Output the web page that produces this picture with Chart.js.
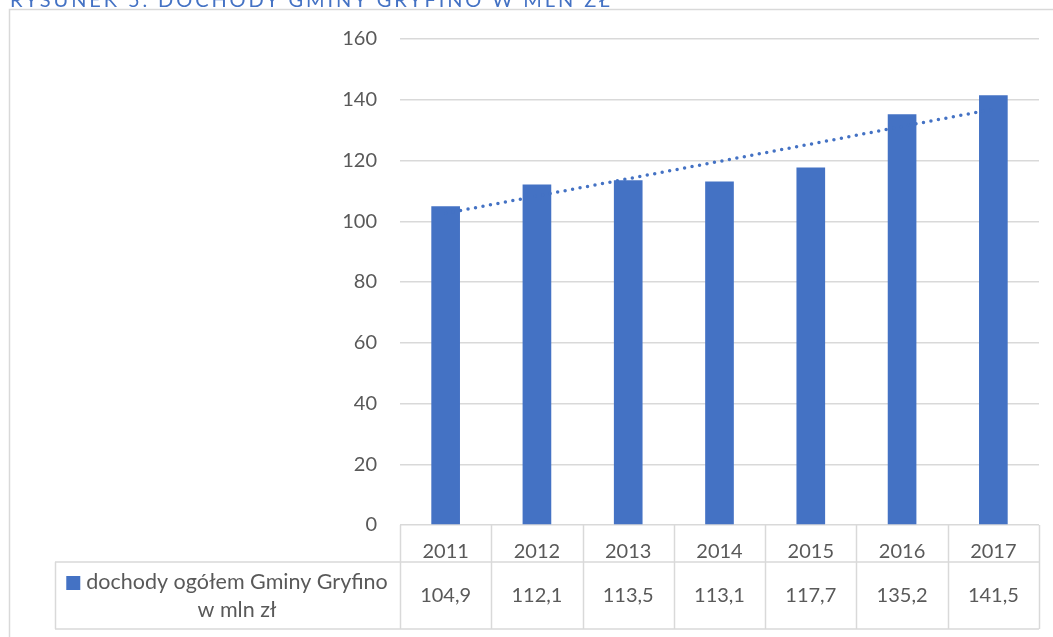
<!DOCTYPE html>
<html>
<head>
<meta charset="utf-8">
<script src="https://cdn.jsdelivr.net/npm/chart.js@4"></script>
<style>
  body { margin: 0; background: #fff; }
  #wrap { position: relative; width: 1053px; height: 637px; overflow: hidden; }
  #title {
    position: absolute; left: 10px; top: -13px; white-space: nowrap;
    font-family: Lato, sans-serif; font-size: 20px; letter-spacing: 2.9px;
    color: #4472c4;
  }
</style>
</head>
<body>
<div id="wrap">
  <div id="title">RYSUNEK 5. DOCHODY GMINY GRYFINO W MLN ZŁ</div>
  <canvas id="chart"></canvas>
</div>
<script>
const years = ['2011', '2012', '2013', '2014', '2015', '2016', '2017']
const incomes = [104.9, 112.1, 113.5, 113.1, 117.7, 135.2, 141.5]
// linear trend line
const trend = [102.6, 108.3, 114.0, 119.7, 125.4, 131.2, 136.9]
const seriesLabel = ['dochody ogółem Gminy Gryfino', 'w mln zł']

const blue = '#4472c4'
const grey = '#d9d9d9'
const textColor = '#595959'
const font = 'Lato, sans-serif'

// frame + data table under the x axis
const tablePlugin = {
  id: 'table',
  beforeDraw(chart) {
    const ctx = chart.ctx
    ctx.save()
    ctx.strokeStyle = grey
    ctx.lineWidth = 1.5
    ctx.strokeRect(9.5, 9.5, 1200, 800)
    ctx.restore()
  },
  afterDraw(chart) {
    const ctx = chart.ctx
    const x = chart.scales.x
    const area = chart.chartArea
    const colW = (area.right - area.left) / years.length
    const headTop = area.bottom
    const rowTop = 562
    const rowBottom = 629
    const labelLeft = 55
    ctx.save()
    ctx.strokeStyle = grey
    ctx.lineWidth = 1.5
    ctx.beginPath()
    for (let i = 0; i <= years.length; i++) {
      const px = Math.round(area.left + i * colW) + 0.5
      ctx.moveTo(px, headTop)
      ctx.lineTo(px, rowBottom)
    }
    ctx.moveTo(labelLeft, rowTop); ctx.lineTo(area.right, rowTop)
    ctx.moveTo(labelLeft, rowBottom); ctx.lineTo(area.right, rowBottom)
    ctx.moveTo(labelLeft + 0.5, rowTop); ctx.lineTo(labelLeft + 0.5, rowBottom)
    ctx.stroke()

    ctx.fillStyle = textColor
    ctx.font = '20px ' + font
    ctx.textAlign = 'center'
    ctx.textBaseline = 'middle'
    incomes.forEach((v, i) => {
      ctx.fillText(v.toFixed(1).replace('.', ','), x.getPixelForValue(i), 596)
    })

    // series label with legend square
    ctx.font = '21.5px ' + font
    const textCenter = 237
    ctx.fillText(seriesLabel[0], textCenter, 582)
    ctx.fillText(seriesLabel[1], textCenter, 610)
    const w = ctx.measureText(seriesLabel[0]).width
    ctx.fillStyle = blue
    ctx.fillRect(textCenter - w / 2 - 20, 576, 14, 14)
    ctx.restore()
  }
}

new Chart(document.getElementById('chart'), {
  type: 'bar',
  data: {
    labels: years,
    datasets: [
      {
        type: 'line',
        label: 'trend',
        data: trend,
        borderColor: blue,
        borderWidth: 3.5,
        borderDash: [0, 7.6],
        borderCapStyle: 'round',
        pointRadius: 0,
        fill: false,
        order: 0
      },
      {
        label: seriesLabel.join(' '),
        data: incomes,
        backgroundColor: blue,
        categoryPercentage: 1,
        barPercentage: 0.314,
        order: 1
      }
    ]
  },
  options: {
    responsive: true,
    maintainAspectRatio: false,
    animation: false,
    layout: { padding: { left: 0, right: 14, top: 39, bottom: 75 } },
    plugins: { legend: { display: false }, tooltip: { enabled: false } },
    scales: {
      x: {
        grid: { display: false },
        border: { display: false },
        ticks: { color: textColor, font: { family: font, size: 20 }, padding: 7 },
        afterFit: s => { s.height = 37 }
      },
      y: {
        min: 0,
        max: 160,
        ticks: { stepSize: 20, color: textColor, font: { family: font, size: 20 }, padding: 23 },
        grid: { color: grey, lineWidth: 1.5, drawTicks: false },
        border: { display: false },
        afterFit: s => { s.width = 400 }
      }
    }
  },
  plugins: [tablePlugin]
})
</script>
</body>
</html>
